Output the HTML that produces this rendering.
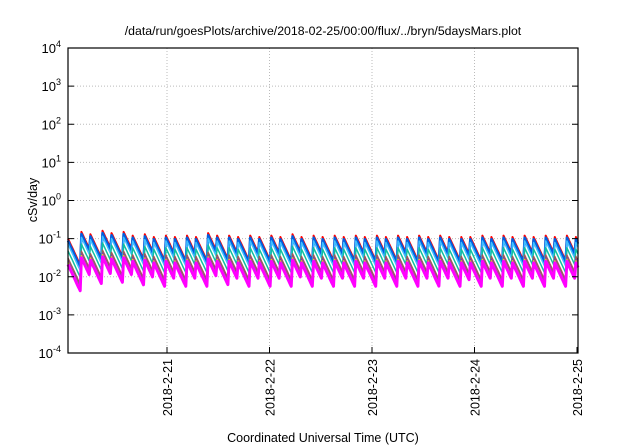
<!DOCTYPE html>
<html><head><meta charset="utf-8"><style>
body{margin:0;background:#fff;}
svg{display:block;font-family:"Liberation Sans",sans-serif;}
</style></head><body>
<svg id="chart" width="640" height="448" viewBox="0 0 640 448" xmlns="http://www.w3.org/2000/svg">
<text x="323" y="35" font-size="12.3" text-anchor="middle">/data/run/goesPlots/archive/2018-02-25/00:00/flux/../bryn/5daysMars.plot</text>
<text transform="translate(37,200) rotate(-90)" font-size="12.5" text-anchor="middle">cSv/day</text>
<text x="323" y="442" font-size="12.5" text-anchor="middle">Coordinated Universal Time (UTC)</text>
<g id="grid"></g><g id="series"></g><g id="axes"></g>
</svg>
<script>
const xTickLabels = ["2018-2-21","2018-2-22","2018-2-23","2018-2-24","2018-2-25"];
const xTickDays = [1,2,3,4,5];
const yTickExps = [-4,-3,-2,-1,0,1,2,3,4];
const spikeDays = [0.034,0.153,0.241,0.359,0.447,0.565,0.653,0.771,0.859,0.977,1.065,1.183,1.271,1.389,1.477,1.594,1.682,1.800,1.888,2.006,2.094,2.212,2.300,2.418,2.506,2.624,2.712,2.830,2.918,3.036,3.124,3.242,3.330,3.448,3.536,3.653,3.741,3.859,3.947,4.065,4.153,4.271,4.359,4.477,4.565,4.683,4.771,4.889,4.977];
const spikePeaks = [0.10,0.15,0.13,0.16,0.14,0.15,0.12,0.13,0.11,0.12,0.11,0.12,0.11,0.14,0.12,0.12,0.11,0.12,0.11,0.12,0.11,0.13,0.11,0.12,0.11,0.12,0.11,0.12,0.11,0.12,0.11,0.12,0.11,0.12,0.11,0.12,0.11,0.11,0.11,0.12,0.11,0.12,0.11,0.12,0.11,0.12,0.11,0.12,0.11];
const seriesColors = ["#ff0000","#0060e0","#40c0ff","#10c0a0","#a05a5a","#7b2fbf","#ffd700","#ff00ff"];
const seriesRatios = [1.0,0.88,0.72,0.48,0.31,0.26,0.24,0.21];
const seriesWidths = [2,2.5,1.5,1.5,1.5,1.2,1.2,3];
const endDay = 5.01;
const tau = 0.075;
const rise = 0.012;

const L=68,R=578,T=48,B=353;
const day0X=64.5, dayW=102.5;
const xs=d=>day0X+d*dayW;
const ys=v=>{const lv=Math.log10(v);return B-(lv+4)/8*(B-T);};
const NS="http://www.w3.org/2000/svg";
const mk=(t,a,p)=>{const e=document.createElementNS(NS,t);for(const k in a)e.setAttribute(k,a[k]);p.appendChild(e);return e;};
const grid=document.getElementById('grid'),axes=document.getElementById('axes'),ser=document.getElementById('series');

yTickExps.forEach(e=>{
  const y=ys(Math.pow(10,e));
  if(e>-4&&e<4){const g=mk('line',{x1:L,x2:R,y1:y,y2:y,stroke:'#bbb','stroke-dasharray':'1,2','stroke-width':1},grid);
  }
  const t=mk('line',{x1:L,x2:L+6,y1:y,y2:y,stroke:'#000'},axes);
  
  const t2=mk('line',{x1:R-6,x2:R,y1:y,y2:y,stroke:'#000'},axes);
  
  const tx=mk('text',{x:L-7,y:y+5,'font-size':13,'text-anchor':'end'},axes);
  
  tx.textContent='10';
  const s=mk('tspan',{dy:-6,'font-size':9},tx);s.textContent=String(e);
});
xTickDays.forEach((d,i)=>{
  const x=xs(d);
  if(x<R-2){const g=mk('line',{x1:x,x2:x,y1:T,y2:B,stroke:'#bbb','stroke-dasharray':'1,2'},grid);
  }
  const t=mk('line',{x1:x,x2:x,y1:B,y2:B-6,stroke:'#000'},axes);
  
  const tx=mk('text',{transform:`translate(${x+5},359) rotate(-90)`,'font-size':12.5,'text-anchor':'end'},axes);
  
  tx.textContent=xTickLabels[i];
});
const fr=mk('rect',{x:L,y:T,width:R-L,height:B-T,fill:'none',stroke:'#000','stroke-width':1.2},axes);


seriesColors.forEach((c,si)=>{
  const pts=[];
  for(let k=0;k<spikeDays.length;k++){
    const t0=spikeDays[k]+(k>0?rise:0),t1=k+1<spikeDays.length?spikeDays[k+1]:endDay;
    const pk=spikePeaks[k]*seriesRatios[si];
    for(let j=0;j<=12;j++){
      const t=t0+(t1-t0)*j/12;
      const v=pk*Math.exp(-(t-t0)/tau);
      pts.push(Math.min(R,Math.max(L,xs(t))).toFixed(1)+','+ys(v).toFixed(1));
    }
  }
  const p=mk('polyline',{points:pts.join(' '),fill:'none',stroke:c,'stroke-width':seriesWidths[si],'stroke-linejoin':'round'},ser);
  
  
});
</script>
</body></html>
